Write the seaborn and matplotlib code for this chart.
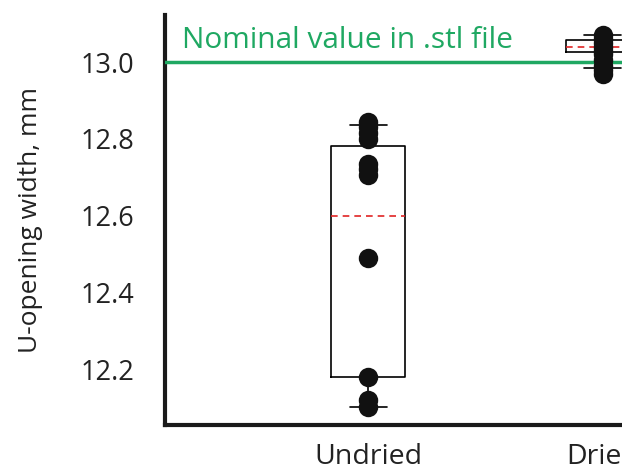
import matplotlib
matplotlib.use("Agg")
import matplotlib.pyplot as plt
import seaborn as sns
import pandas as pd

# Measured U-opening widths (mm) per drying condition
groups = ["Undried", "Dried"]
undried_vals = [12.845, 12.83, 12.815, 12.80, 12.735, 12.72, 12.705, 12.49, 12.18, 12.12, 12.10]
dried_vals = [13.07, 13.06, 13.05, 13.04, 13.03, 13.02, 13.005, 12.99, 12.98, 12.97]

# Box summaries: whisker low, box low, centre line, box high, whisker high
undried_box = [12.10, 12.18, 12.60, 12.78, 12.835]
dried_box = [12.984, 13.026, 13.039, 13.057, 13.07]

nominal = 13.0
nominal_label = "Nominal value in .stl file"
y_label = "U-opening width, mm"
y_ticks = [12.2, 12.4, 12.6, 12.8, 13.0]

points = pd.DataFrame({
    "group": ["Undried"] * len(undried_vals) + ["Dried"] * len(dried_vals),
    "width": undried_vals + dried_vals,
})
boxes = pd.DataFrame({
    "group": ["Undried"] * len(undried_box) + ["Dried"] * len(dried_box),
    "width": undried_box + dried_box,
})

sns.set_style("white")
plt.rcParams["font.family"] = ["Open Sans", "DejaVu Sans"]

fig = plt.figure(figsize=(6.22, 4.76), dpi=100)
ax = fig.add_axes([0.2653, 0.107, 0.893, 0.861])

sns.boxplot(
    data=boxes, x="group", y="width", order=groups, ax=ax,
    whis=(0, 100), width=0.315, fill=False, color="black", linecolor="#1a1a1a",
    linewidth=1.2, showfliers=False,
    medianprops=dict(color="#e02424", linestyle=(0, (4, 3)), linewidth=1.2),
)
sns.stripplot(
    data=points, x="group", y="width", order=groups, ax=ax,
    jitter=False, size=14, color="#111111", zorder=5,
)

ax.axhline(nominal, color="#1fa862", linewidth=2.5, zorder=4)
ax.text(0.03, nominal + 0.036, nominal_label, transform=ax.get_yaxis_transform(),
        color="#1fa862", fontsize=21.5, ha="left", va="baseline")

ax.set_xlim(-0.864, 1.5)
ax.set_ylim(12.054, 13.122)
ax.set_yticks(y_ticks)
ax.set_yticklabels([f"{t:.1f}" for t in y_ticks])
ax.tick_params(axis="y", length=0, pad=22, labelsize=19.5, labelcolor="#222222")
ax.tick_params(axis="x", length=0, pad=13, labelsize=20.5, labelcolor="#222222")
ax.set_xlabel("")
ax.set_ylabel(y_label, fontsize=19, color="#222222", labelpad=27)

for side in ["top", "right"]:
    ax.spines[side].set_visible(False)
for side in ["left", "bottom"]:
    ax.spines[side].set_linewidth(3)
    ax.spines[side].set_color("#1a1a1a")

fig.savefig("out.png", dpi=100)
